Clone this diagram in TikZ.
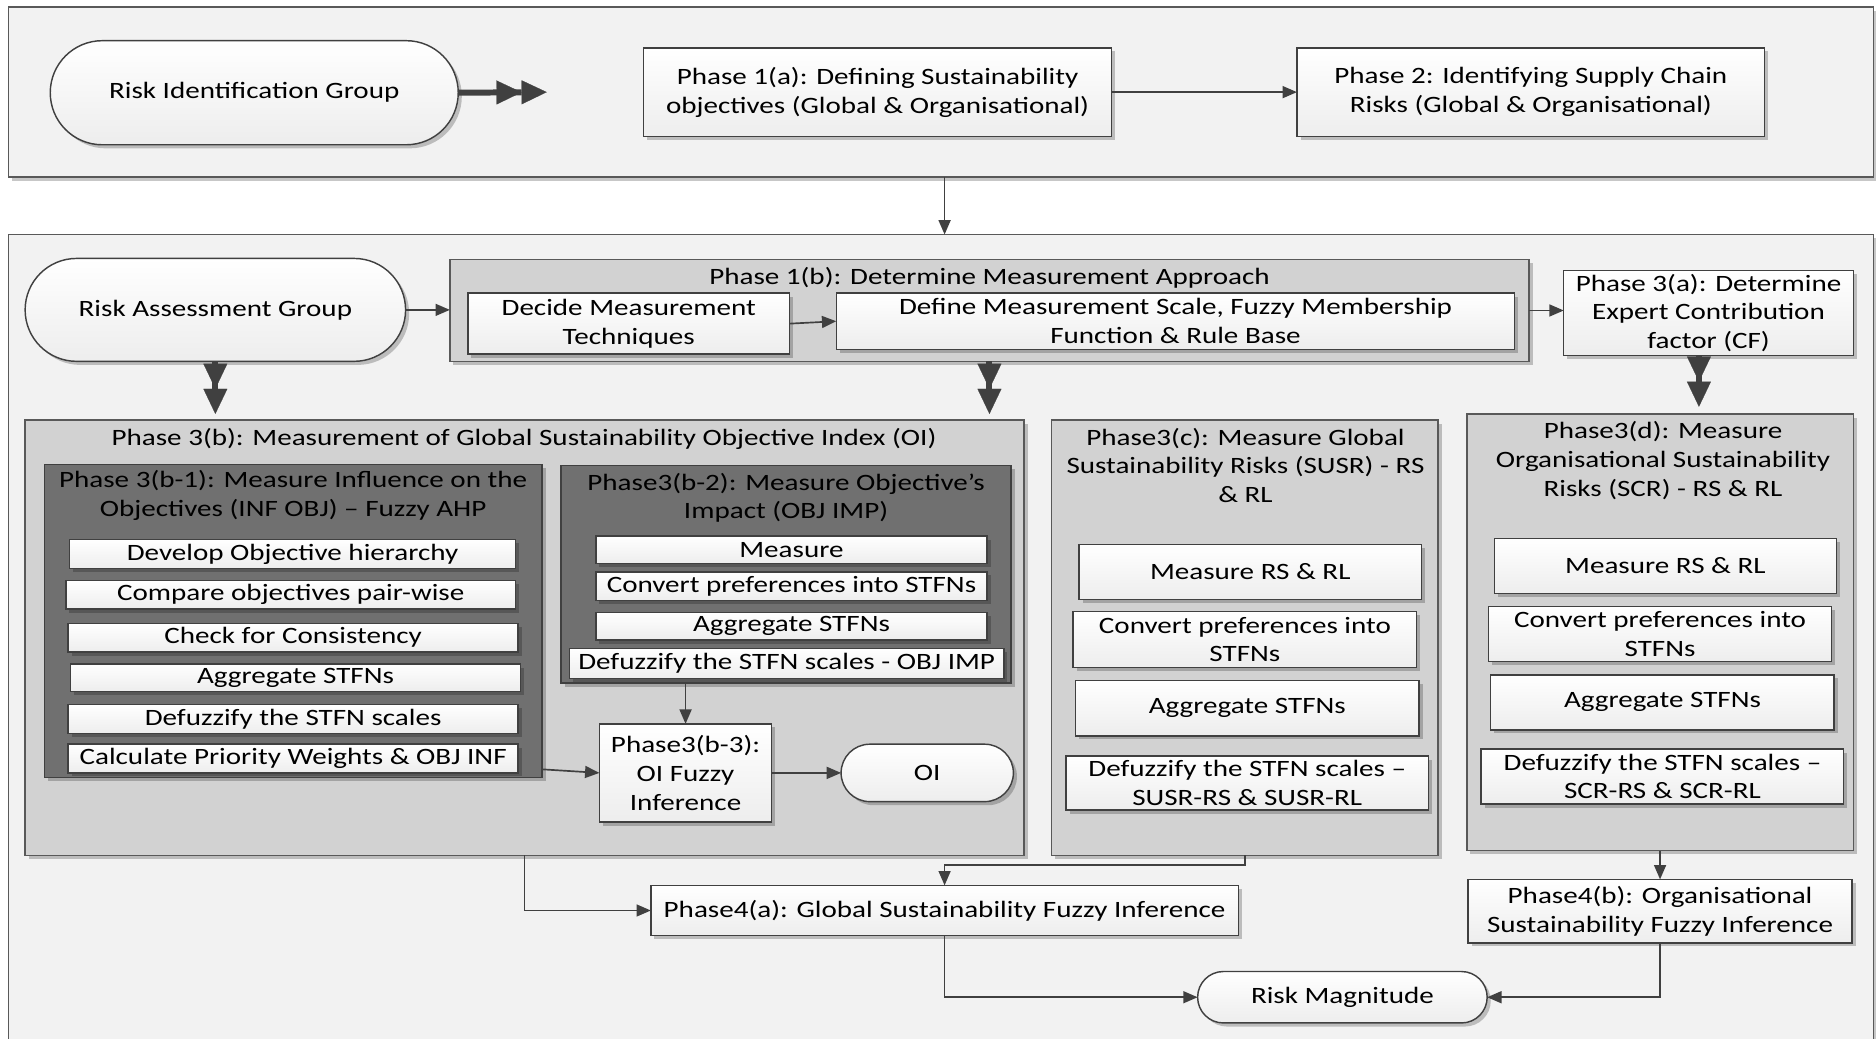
\documentclass[tikz,border=0pt]{standalone}
\usepackage{fontspec}
\setmainfont{Carlito}[FakeStretch=1.24]
\usetikzlibrary{arrows.meta,shadows,calc}

\definecolor{frame}{HTML}{595959}
\definecolor{paneA}{HTML}{F2F2F2}
\definecolor{paneB}{HTML}{D2D2D2}
\definecolor{paneC}{HTML}{707070}
\definecolor{ink}{HTML}{404040}

\begin{document}
\begin{tikzpicture}[x=0.5pt,y=-0.5pt,
  font=\fontsize{9.8}{12}\selectfont,
  every node/.style={inner sep=0pt, outer sep=0pt},
  % place a node by its corners (x1,y1,x2,y2) in picture units
  spot/.style args={#1,#2,#3,#4}{at={({(#1+#3)/2},{(#2+#4)/2})},
    minimum width={(#3-#1)*0.5pt}, minimum height={(#4-#2)*0.5pt}},
  softshadow/.style={drop shadow={shadow xshift=1.5pt,shadow yshift=-1.5pt,opacity=0.22,fill=black}},
  outerpane/.style={draw=frame, fill=paneA, line width=0.6pt, softshadow},
  midpane/.style={draw=frame, fill=paneB, line width=0.6pt, softshadow},
  darkpane/.style={draw=ink, fill=paneC, line width=0.6pt, softshadow},
  wbox/.style={draw=ink, line width=0.6pt, top color=white, bottom color=black!7, softshadow, align=center},
  pill/.style={wbox, rounded corners=#1},
  caption/.style={align=center},
  link/.style={draw=ink, line width=0.7pt, -{Triangle[length=6pt,width=5pt]}},
  dlink/.style={draw=ink, line width=2.5pt,
    -{Triangle[length=10.5pt,width=10pt,line width=0.1pt]Triangle[length=10.5pt,width=10pt,line width=0.1pt]}}
]
\useasboundingbox (0,0) rectangle (1568,868);
\fill[white] (0,0) rectangle (1568,868);
\clip (0,0) rectangle (1568,868);

% ---------------- identification group ----------------
\node[outerpane, spot={7,6,1566,148}] (idgroup) {};
\node[pill=21.75pt, spot={42,34,383,121}] (rig) {Risk Identification Group};
\node[wbox, spot={538,40,929,114}] (p1a) {Phase 1(a): Defining Sustainability\\objectives (Global \& Organisational)};
\node[wbox, spot={1084,40,1475,114}] (p2) {Phase 2: Identifying Supply Chain\\Risks (Global \& Organisational)};
\coordinate (rigend) at (457,77);

% ---------------- assessment group ----------------
\node[outerpane, spot={7,196,1566,900}] (asgroup) {};
\node[pill=21.5pt, spot={21,216,339,302}] (rag) {Risk Assessment Group};

\node[midpane, spot={376,217,1278,302}] (p1b) {};
\node[caption] (p1bt) at (827,232) {Phase 1(b): Determine Measurement Approach};
\node[wbox, spot={391,245,660,296}] (decide) {Decide Measurement\\Techniques};
\node[wbox, spot={699,245,1266,292}] (define) {Define Measurement Scale, Fuzzy Membership\\Function \& Rule Base};

\node[wbox, spot={1307,226,1549,297}] (p3a) {Phase 3(a): Determine\\Expert Contribution\\factor (CF)};

% Phase 3(b)
\node[midpane, spot={21,351,856,715}] (p3b) {};
\node[caption] (p3bt) at (438,367) {Phase 3(b): Measurement of Global Sustainability Objective Index (OI)};

\node[darkpane, spot={37,388,453,650}] (b1) {};
\node[caption] (b1t) at (245,414) {Phase 3(b-1): Measure Influence on the\\Objectives (INF OBJ) -- Fuzzy AHP};
\node[wbox, spot={58,451,431,475}] (s1) {Develop Objective hierarchy};
\node[wbox, spot={55,485,431,509}] (s2) {Compare objectives pair-wise};
\node[wbox, spot={57,521,433,545}] (s3) {Check for Consistency};
\node[wbox, spot={59,555,435,578}] (s4) {Aggregate STFNs};
\node[wbox, spot={57,589,433,613}] (s5) {Defuzzify the STFN scales};
\node[wbox, spot={57,622,433,646}] (s6) {Calculate Priority Weights \& OBJ INF};

\node[darkpane, spot={469,389,845,571}] (b2) {};
\node[caption] (b2t) at (657,416) {Phase3(b-2): Measure Objective’s\\Impact (OBJ IMP)};
\node[wbox, spot={498,448,825,471}] (t1) {Measure};
\node[wbox, spot={498,478,825,502}] (t2) {Convert preferences into STFNs};
\node[wbox, spot={498,512,825,535}] (t3) {Aggregate STFNs};
\node[wbox, spot={476,542,839,567}] (t4) {Defuzzify the STFN scales - OBJ IMP};

\node[wbox, spot={501,605,645,687}] (b3) {Phase3(b-3):\\OI Fuzzy\\Inference};
\node[pill=12pt, spot={703,622,847,670}] (oi) {OI};

% Phase 3(c)
\node[midpane, spot={879,351,1202,715}] (p3c) {};
\node[caption] (p3ct) at (1041,389) {Phase3(c): Measure Global\\Sustainability Risks (SUSR) - RS\\\& RL};
\node[wbox, spot={902,455,1188,501}] (c1) {Measure RS \& RL};
\node[wbox, spot={897,511,1184,558}] (c2) {Convert preferences into\\STFNs};
\node[wbox, spot={899,569,1186,615}] (c3) {Aggregate STFNs};
\node[wbox, spot={891,632,1194,677}] (c4) {Defuzzify the STFN scales --\\SUSR-RS \& SUSR-RL};

% Phase 3(d)
\node[midpane, spot={1226,346,1549,711}] (p3d) {};
\node[caption] (p3dt) at (1390,385) {Phase3(d): Measure\\Organisational Sustainability\\Risks (SCR) - RS \& RL};
\node[wbox, spot={1249,450,1535,496}] (d1) {Measure RS \& RL};
\node[wbox, spot={1244,507,1531,553}] (d2) {Convert preferences into\\STFNs};
\node[wbox, spot={1246,564,1533,610}] (d3) {Aggregate STFNs};
\node[wbox, spot={1238,626,1541,672}] (d4) {Defuzzify the STFN scales --\\SCR-RS \& SCR-RL};

% Phase 4 and result
\node[wbox, spot={544,740,1035,782}] (p4a) {Phase4(a): Global Sustainability Fuzzy Inference};
\node[wbox, spot={1227,735,1548,788}] (p4b) {Phase4(b): Organisational\\Sustainability Fuzzy Inference};
\node[pill=10.75pt, spot={1001,812,1243,855}] (rm) {Risk Magnitude};

\coordinate (ragend) at (180,346);
\coordinate (p1bend) at (827,346);
\coordinate (cftop) at (1420,297);
\coordinate (cfend) at (1420,340);

% ---------------- connectors ----------------
\draw[dlink] (rig.east) -- (rigend);
\draw[link] (p1a.east) -- (p2.west);
\draw[link] (idgroup.south -| p4a.north) -- (asgroup.north -| p4a.north);

\draw[link] (rag.east) -- (rag.east -| p1b.west);
\draw[link] (decide.east) -- (define.west);
\draw[link] (p1b.east) -- (p1b.east -| p3a.west);

\draw[dlink] (rag.south) -- (ragend);
\draw[dlink] (p1b.south) -- (p1bend);
\draw[dlink] (cftop) -- (cfend);

\draw[link] (b2.south -| b3.north) -- (b3.north);
\draw[link] ($(b1.south east)+(0,-7)$) -- (b3.west);
\draw[link] (b3.east) -- (oi.west);

\draw[link] (p3b.south) |- (p4a.west);
\draw[link] (p3c.south) -- ++(0,8) -| (p4a.north);
\draw[link] (p3d.south) -- (p4b.north);
\draw[link] (p4a.south) |- (rm.west);
\draw[link] (p4b.south) |- (rm.east);
\end{tikzpicture}
\end{document}
